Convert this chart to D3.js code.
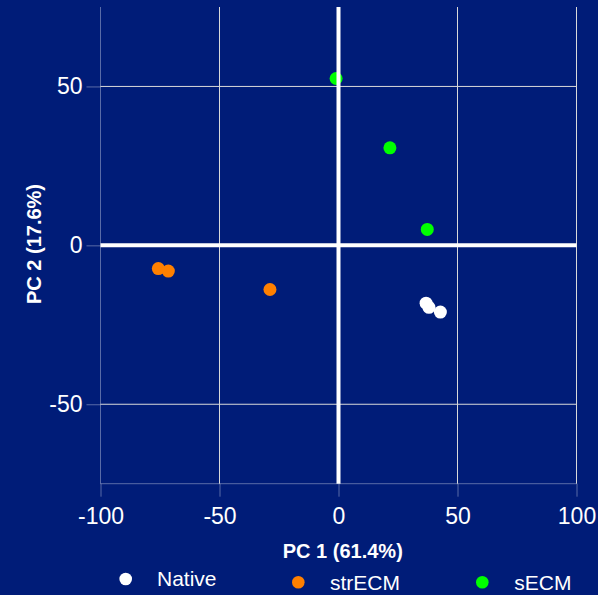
<!DOCTYPE html>
<html>
<head>
<meta charset="utf-8">
<script src="https://cdn.jsdelivr.net/npm/d3@7"></script>
<style>
  html, body { margin: 0; padding: 0; background: #001c78; }
  svg { display: block; }
</style>
</head>
<body>
<div id="chart"></div>
<script>
// ---- data ----
const groups = ["Native", "strECM", "sECM"];
const groupColors = ["#ffffff", "#ff8000", "#00ff00"];
const nativePC1 = [36.8, 38.0, 42.8];
const nativePC2 = [-18.2, -19.5, -21.0];
const strECMPC1 = [-75.7, -71.5, -28.8];
const strECMPC2 = [-7.3, -8.1, -13.9];
const sECMPC1 = [-1.0, 21.6, 37.3];
const sECMPC2 = [52.5, 30.7, 5.0];
const xTicks = [-100, -50, 0, 50, 100];
const yTicks = [-50, 0, 50];
const xTitle = "PC 1 (61.4%)";
const yTitle = "PC 2 (17.6%)";

const seriesPC1 = [nativePC1, strECMPC1, sECMPC1];
const seriesPC2 = [nativePC2, strECMPC2, sECMPC2];
const points = [];
groups.forEach((g, gi) => {
  seriesPC1[gi].forEach((v, i) => points.push({ group: g, gi: gi, x: v, y: seriesPC2[gi][i] }));
});

// ---- layout ----
const W = 598, H = 595;
const bg = "#001c78";
const font = "'Liberation Sans', Arial, Helvetica, sans-serif";
const faint = "rgba(255,255,255,0.35)";

const x = d3.scaleLinear().domain([-100, 100]).range([100.5, 576.5]);
const y = d3.scaleLinear().domain([-75, 75]).range([483.7, 7]);

const svg = d3.select("#chart").append("svg")
  .attr("width", W).attr("height", H);

svg.append("rect").attr("width", W).attr("height", H).attr("fill", bg);

// gridlines
const grid = svg.append("g");
grid.selectAll("line.vg").data(xTicks.filter(t => t !== -100 && t !== 0)).join("line")
  .attr("x1", d => x(d)).attr("x2", d => x(d))
  .attr("y1", y(75)).attr("y2", y(-75))
  .attr("stroke", "#d9d9d9").attr("stroke-width", 1);
grid.selectAll("line.hg").data(yTicks.filter(t => t !== 0)).join("line")
  .attr("x1", x(-100)).attr("x2", x(100))
  .attr("y1", d => y(d)).attr("y2", d => y(d))
  .attr("stroke", "#d9d9d9").attr("stroke-width", 1);

// points
svg.append("g").selectAll("circle").data(points).join("circle")
  .attr("cx", d => x(d.x)).attr("cy", d => y(d.y))
  .attr("r", 6.5)
  .attr("fill", d => groupColors[d.gi]);

// zero lines
svg.append("line")
  .attr("x1", x(-100)).attr("x2", x(100))
  .attr("y1", y(0)).attr("y2", y(0))
  .attr("stroke", "#ffffff").attr("stroke-width", 4);
svg.append("line")
  .attr("x1", x(0)).attr("x2", x(0))
  .attr("y1", y(75)).attr("y2", y(-75))
  .attr("stroke", "#ffffff").attr("stroke-width", 4);

// axes
const fmt = d => String(d);
const xAxis = d3.axisBottom(x).tickValues(xTicks).tickSize(13).tickPadding(11).tickFormat(fmt);
const yAxis = d3.axisLeft(y).tickValues(yTicks).tickSize(14).tickPadding(4).tickFormat(fmt);

const gx = svg.append("g").attr("transform", `translate(0,${y(-75)})`).call(xAxis);
const gy = svg.append("g").attr("transform", `translate(${x(-100)},0)`).call(yAxis);

[gx, gy].forEach(g => {
  g.select(".domain").attr("stroke", faint).attr("stroke-width", 1);
  g.selectAll(".tick line").attr("stroke", faint).attr("stroke-width", 1);
  g.selectAll(".tick text")
    .attr("fill", "#ffffff")
    .style("font-family", font)
    .style("font-size", "23px");
});
gx.select(".domain").attr("d", `M${x(-100)},0H${x(100)}`);
gy.select(".domain").attr("d", `M0,${y(75)}V${y(-75)}`);

// axis titles
svg.append("text")
  .attr("x", 342.8).attr("y", 558)
  .attr("text-anchor", "middle")
  .attr("fill", "#ffffff")
  .style("font-family", font).style("font-weight", "bold").style("font-size", "20px")
  .text(xTitle);

svg.append("text")
  .attr("transform", `translate(41,244) rotate(-90)`)
  .attr("text-anchor", "middle")
  .attr("fill", "#ffffff")
  .style("font-family", font).style("font-weight", "bold").style("font-size", "20px")
  .text(yTitle);

// legend
const legendPos = [
  { cx: 125.7, cy: 579, tx: 157, ty: 585.5 },
  { cx: 298.3, cy: 582.3, tx: 330, ty: 590 },
  { cx: 482.3, cy: 582.3, tx: 514.3, ty: 590 }
];
const leg = svg.append("g").selectAll("g").data(groups).join("g");
leg.append("circle")
  .attr("cx", (d, i) => legendPos[i].cx).attr("cy", (d, i) => legendPos[i].cy)
  .attr("r", 6.3).attr("fill", (d, i) => groupColors[i]);
leg.append("text")
  .attr("x", (d, i) => legendPos[i].tx).attr("y", (d, i) => legendPos[i].ty)
  .attr("fill", "#ffffff")
  .style("font-family", font).style("font-size", "21px")
  .text(d => d);
</script>
</body>
</html>
